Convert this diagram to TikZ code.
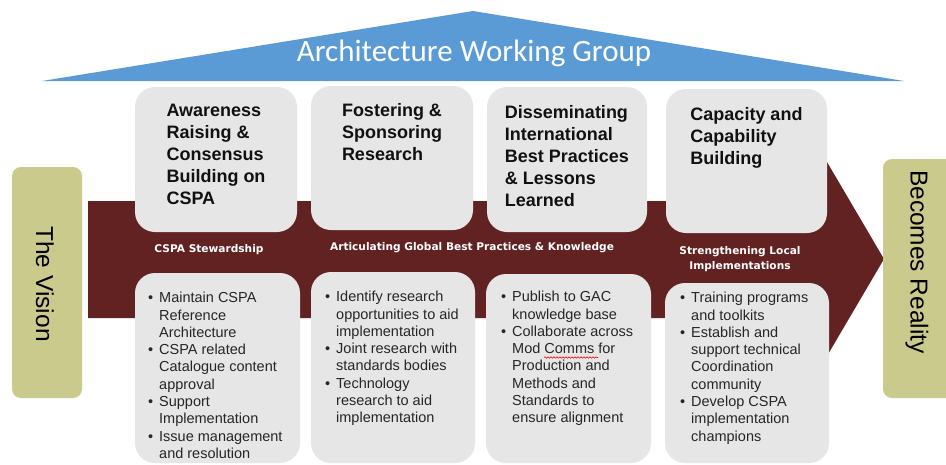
\documentclass[tikz,border=0pt]{standalone}
\usepackage{fontspec}
\setmainfont{Liberation Sans}
\newfontfamily\carlitofont{Carlito}
\newfontfamily\dvsfont{DejaVu Sans}
\usetikzlibrary{decorations.pathmorphing}
\definecolor{awgblue}{HTML}{5B9BD5}
\definecolor{arrowred}{HTML}{632222}
\definecolor{olivebg}{HTML}{CACA8C}
\definecolor{boxgray}{HTML}{E6E6E6}
\definecolor{toptxt}{HTML}{111111}
\definecolor{bottxt}{HTML}{262626}
\newcommand{\bul}{\makebox[11pt][l]{•}}
\newcommand{\cont}{\hspace*{11pt}}
\tikzset{
  graybox/.style={fill=boxgray, rounded corners=20pt},
  olivebox/.style={fill=olivebg, rounded corners=9pt},
  toptext/.style={anchor=north, align=left, inner sep=0pt, text=toptxt,
    font=\fontsize{18}{22}\selectfont\bfseries},
  bottext/.style={anchor=north west, align=left, inner sep=0pt, text=bottxt,
    font=\fontsize{14.5}{17.3}\selectfont},
  arrowlabel/.style={inner sep=0pt, text=white, align=center,
    font=\dvsfont\fontsize{10.6}{15}\selectfont\bfseries},
  sidetext/.style={inner sep=0pt, rotate=-90, text=black,
    font=\fontsize{24.5}{28}\selectfont},
}
\begin{document}
\begin{tikzpicture}[x=1pt,y=-1pt]
\useasboundingbox (0,0) rectangle (946,464);
\fill[white] (0,0) rectangle (946,464);
% top triangle
\fill[awgblue] (42,81) -- (473,11) -- (904,81) -- cycle;
\node[anchor=base, inner sep=0pt, text=white, font=\carlitofont\fontsize{31}{36}\selectfont] (awg) at (474,61.5) {Architecture Working Group};
% big arrow
\fill[arrowred] (88,201) -- (827,201) -- (827,162) -- (884,259) -- (827,356) -- (827,318) -- (88,318) -- cycle;
% side boxes
\fill[olivebox] (12,167) rectangle (82,398);
\node[sidetext] (vision) at (45,284) {The Vision};
\begin{scope}
\clip (0,0) rectangle (946,464);
\fill[olivebox] (883,159) rectangle (970,398);
\end{scope}
\node[sidetext] (reality) at (917,262) {Becomes Reality};
% top boxes
\fill[graybox] (135,87) rectangle (297,232);
\fill[graybox] (311,86) rectangle (473,230);
\fill[graybox] (487,87) rectangle (647,232);
\fill[graybox] (666,89) rectangle (827,233);
\node[toptext] (t1) at (216,104) {Awareness\\Raising \&\\Consensus\\Building on\\CSPA};
\node[toptext] (t2) at (392,103) {Fostering \&\\Sponsoring\\Research};
\node[toptext] (t3) at (567,105) {Disseminating\\International\\Best Practices\\\& Lessons\\Learned};
\node[toptext] (t4) at (746.5,107) {Capacity and\\Capability\\Building};
% arrow labels
\node[arrowlabel] (l1) at (209,250) {CSPA Stewardship};
\node[arrowlabel] (l2) at (472,248) {Articulating Global Best Practices \& Knowledge};
\node[arrowlabel] (l3) at (740,259.5) {Strengthening Local\\Implementations};
% bottom boxes
\fill[graybox] (135,273) rectangle (300,463);
\fill[graybox] (311,272) rectangle (475,463);
\fill[graybox] (486,274) rectangle (651,463);
\fill[graybox] (665,283) rectangle (829,463);
\node[bottext] (b1) at (148,292) {\bul Maintain CSPA\\\cont Reference\\\cont Architecture\\\bul CSPA related\\\cont Catalogue content\\\cont approval\\\bul Support\\\cont Implementation\\\bul Issue management\\\cont and resolution};
\node[bottext] (b2) at (325,291) {\bul Identify research\\\cont opportunities to aid\\\cont implementation\\\bul Joint research with\\\cont standards bodies\\\bul Technology\\\cont research to aid\\\cont implementation};
\node[bottext] (b3) at (501,291) {\bul Publish to GAC\\\cont knowledge base\\\bul Collaborate across\\\cont Mod Comms for\\\cont Production and\\\cont Methods and\\\cont Standards to\\\cont ensure alignment};
\node[bottext] (b4) at (680,292) {\bul Training programs\\\cont and toolkits\\\bul Establish and\\\cont support technical\\\cont Coordination\\\cont community\\\bul Develop CSPA\\\cont implementation\\\cont champions};
\draw[red, line width=0.6pt, decorate, decoration={snake, amplitude=0.7pt, segment length=3pt}] (544,357.5) -- (598,357.5);
\end{tikzpicture}
\end{document}
